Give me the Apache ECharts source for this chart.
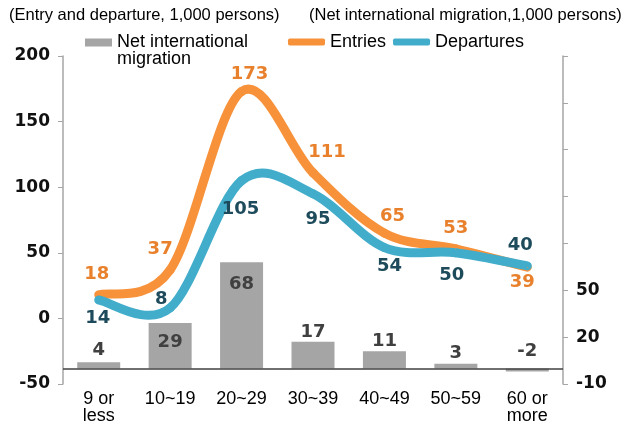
<!DOCTYPE html>
<html>
<head>
<meta charset="utf-8">
<script src="https://cdn.jsdelivr.net/npm/echarts@6/dist/echarts.min.js"></script>
<style>
html,body{margin:0;padding:0;background:#fff;}
#chart{width:632px;height:428px;}
</style>
</head>
<body>
<div id="chart"></div>
<script>
// ---- data ----
const categories = ['9 or\nless', '10~19', '20~29', '30~39', '40~49', '50~59', '60 or\nmore'];
const netMigration = [4, 29, 68, 17, 11, 3, -2];
const entries = [18, 37, 173, 111, 65, 53, 39];
const departures = [14, 8, 105, 95, 54, 50, 40];
const leftTicks = [-50, 0, 50, 100, 150, 200];
const rightTickLabels = [-10, 20, 50];
const leftTitle = '(Entry and departure, 1,000 persons)';
const rightTitle = '(Net international migration,1,000 persons)';

// ---- styles (label placements) ----
const entriesLabelOffset = [[-2,-20],[-10,-21],[8,-17],[14,-20],[8,-17],[0,-21],[-5,15]];
const departuresLabelOffset = [[-1,18],[-9,-9],[-1,29],[5,26],[5,19],[-4,23],[-7,-21]];
const barLabelStyle = [
  {position:'top', distance:3},
  {position:'insideTop', distance:10},
  {position:'insideTop', distance:13},
  {position:'top', distance:1},
  {position:'top', distance:1},
  {position:'top', distance:1},
  {position:'inside', offset:[0,-19]}
];

const ORANGE = '#F7923A';
const BLUE = '#42ADCB';
const GRAY = '#A5A5A5';
const ORANGE_TXT = '#E8802C';
const BLUE_TXT = '#1E4B5C';
const LABEL_FONT = '"DejaVu Sans", sans-serif';
const TEXT_FONT = '"Liberation Sans", Arial, sans-serif';

const chart = echarts.init(document.getElementById('chart'), null, {renderer:'canvas'});

// Smoothed curve (Catmull-Rom style, like spreadsheet "smoothed line"),
// every point obtained through the chart's own axes via api.coord.
function smoothRenderer(values, color) {
  return function(params, api) {
    const i = params.dataIndex;
    const n = values.length;
    if (i >= n - 1) return null;
    const pt = function(k) {
      const kk = Math.max(0, Math.min(n - 1, k));
      return api.coord([kk, values[kk]]);
    };
    const p0 = pt(i - 1), p1 = pt(i), p2 = pt(i + 1), p3 = pt(i + 2);
    return {
      type: 'bezierCurve',
      shape: {
        x1: p1[0], y1: p1[1], x2: p2[0], y2: p2[1],
        cpx1: p1[0] + (p2[0] - p0[0]) / 6, cpy1: p1[1] + (p2[1] - p0[1]) / 6,
        cpx2: p2[0] - (p3[0] - p1[0]) / 6, cpy2: p2[1] - (p3[1] - p1[1]) / 6
      },
      style: {stroke: color, lineWidth: 9, fill: null, lineCap: 'round', lineJoin: 'round'},
      silent: true
    };
  };
}

const option = {
  animation: false,
  backgroundColor: '#fff',
  graphic: [
    {type:'text', left:9, top:7, style:{text:leftTitle, font:'16.5px "Liberation Sans", Arial, sans-serif', fill:'#000'}},
    {type:'text', left:309, top:7, style:{text:rightTitle, font:'16.5px "Liberation Sans", Arial, sans-serif', fill:'#000'}}
  ],
  legend: [
    {
      left: 85, top: 16.5, padding: 0, itemGap: 0,
      itemWidth: 27, itemHeight: 8, icon: 'rect',
      data: ['Net international migration'],
      formatter: function(){ return ' \nNet international\nmigration'; },
      textStyle: {fontFamily: TEXT_FONT, fontSize: 18, lineHeight: 17, color:'#000'}
    },
    {
      left: 288, top: 33, padding: 0, itemGap: 7,
      itemWidth: 37, itemHeight: 7, icon: 'roundRect',
      data: ['Entries', 'Departures'],
      textStyle: {fontFamily: TEXT_FONT, fontSize: 18, color:'#000'}
    }
  ],
  grid: {left: 63, right: 69, top: 56, bottom: 44},
  xAxis: {
    type: 'category',
    data: categories,
    axisLine: {show:false},
    axisTick: {show:false},
    axisLabel: {fontFamily: TEXT_FONT, fontSize: 18, color:'#000', lineHeight: 17, margin: 7, interval: 0}
  },
  yAxis: [
    {
      type: 'value', position: 'left',
      min: leftTicks[0], max: leftTicks[leftTicks.length-1], interval: leftTicks[1]-leftTicks[0],
      axisLine: {show:true, lineStyle:{color:'#A6A6A6', width:1.5}},
      axisTick: {show:true, length:5, lineStyle:{color:'#A6A6A6'}},
      splitLine: {show:false},
      axisLabel: {fontFamily: LABEL_FONT, fontWeight:'bold', fontSize:17, color:'#111', margin:13}
    },
    {
      type: 'value', position: 'right',
      min: -10, max: 200, interval: 30,
      axisLine: {show:true, lineStyle:{color:'#A6A6A6', width:1.5}},
      axisTick: {show:true, length:5, lineStyle:{color:'#A6A6A6'}},
      splitLine: {show:false},
      axisLabel: {
        fontFamily: LABEL_FONT, fontWeight:'bold', fontSize:17, color:'#111', margin:13,
        formatter: function(v){ return rightTickLabels.indexOf(v) >= 0 ? String(v) : ''; }
      }
    }
  ],
  series: [
    {
      name: 'Net international migration',
      type: 'bar',
      yAxisIndex: 1,
      barWidth: 43,
      itemStyle: {color: GRAY},
      data: netMigration.map(function(v, i){
        return {value: v, label: barLabelStyle[i]};
      }),
      label: {show:true, fontFamily: LABEL_FONT, fontWeight:'bold', fontSize:18, color:'#404040'},
      markLine: {
        silent: true, symbol: 'none',
        label: {show:false},
        lineStyle: {color:'#404040', width:1.5, type:'solid'},
        data: [{yAxis: 0}]
      }
    },
    {
      name: 'Entries',
      type: 'custom',
      yAxisIndex: 0,
      itemStyle: {color: ORANGE},
      encode: {x: 0, y: 1},
      data: entries.map(function(v, i){ return [i, v]; }),
      renderItem: smoothRenderer(entries, ORANGE),
      z: 3
    },
    {
      name: 'Departures',
      type: 'custom',
      yAxisIndex: 0,
      itemStyle: {color: BLUE},
      encode: {x: 0, y: 1},
      data: departures.map(function(v, i){ return [i, v]; }),
      renderItem: smoothRenderer(departures, BLUE),
      z: 4
    },
    {
      name: 'Entries values',
      type: 'scatter',
      yAxisIndex: 0,
      symbolSize: 1,
      itemStyle: {color: ORANGE, opacity: 1},
      data: entries.map(function(v, i){
        return {value: v, label: {offset: entriesLabelOffset[i]}};
      }),
      label: {show:true, position:'inside', opacity: 1, fontFamily: LABEL_FONT, fontWeight:'bold', fontSize:18, color: ORANGE_TXT},
      z: 5
    },
    {
      name: 'Departures values',
      type: 'scatter',
      yAxisIndex: 0,
      symbolSize: 1,
      itemStyle: {color: BLUE, opacity: 1},
      data: departures.map(function(v, i){
        return {value: v, label: {offset: departuresLabelOffset[i]}};
      }),
      label: {show:true, position:'inside', opacity: 1, fontFamily: LABEL_FONT, fontWeight:'bold', fontSize:18, color: BLUE_TXT},
      z: 5
    }
  ]
};
chart.setOption(option);
</script>
</body>
</html>
